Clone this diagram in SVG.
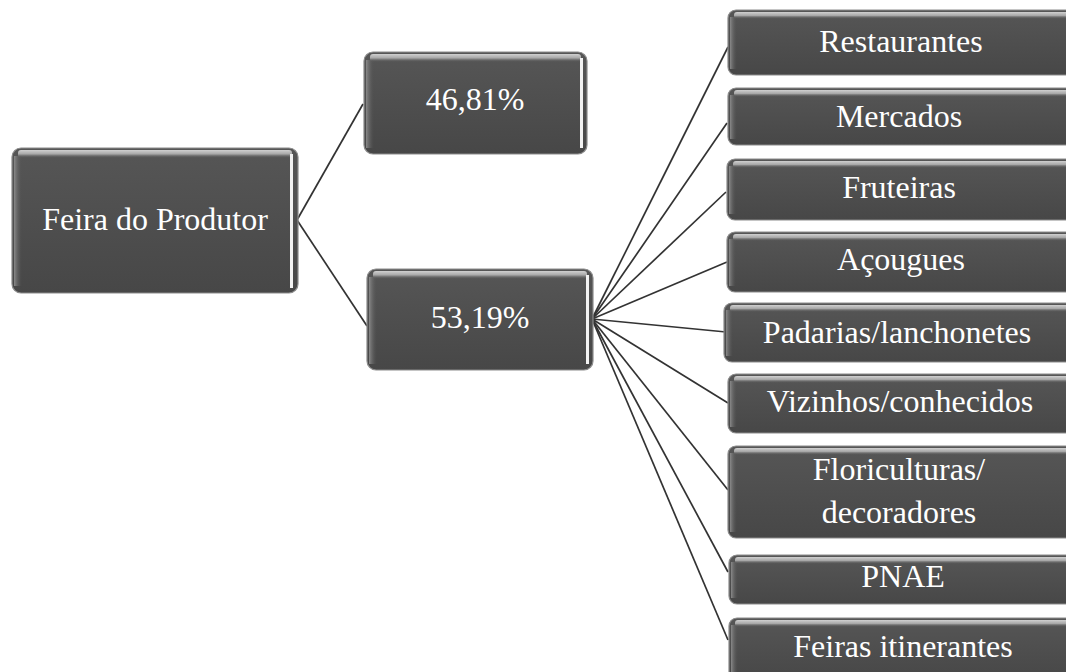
<svg xmlns="http://www.w3.org/2000/svg" width="1066" height="672" viewBox="0 0 1066 672">
<defs>
<linearGradient id="body" x1="0" y1="0" x2="0" y2="1">
<stop offset="0" stop-color="#565656"/>
<stop offset="1" stop-color="#474747"/>
</linearGradient>
<linearGradient id="hl" x1="0" y1="0" x2="0" y2="1">
<stop offset="0" stop-color="#d0d0d0"/>
<stop offset="0.5" stop-color="#a8a8a8"/>
<stop offset="1" stop-color="#5a5a5a" stop-opacity="0"/>
</linearGradient>
<linearGradient id="lhl" x1="0" y1="0" x2="1" y2="0">
<stop offset="0" stop-color="#8a8a8a"/>
<stop offset="1" stop-color="#555" stop-opacity="0"/>
</linearGradient>
</defs>
<style>
.box{fill:url(#body);stroke:#8c8c8c;stroke-width:1.2}
.top{fill:url(#hl)}
.left{fill:url(#lhl)}
.rhl{fill:#f2f2f2}
.t{font-size:32px;fill:#ffffff;text-anchor:middle}
.c{fill:none;stroke:#333333;stroke-width:1.7}
</style>
<rect width="1066" height="672" fill="#ffffff"/>
<g id="connectors">
<line class="c" x1="297" y1="220" x2="363" y2="104"/>
<line class="c" x1="297" y1="220" x2="367" y2="326"/>
<line class="c" x1="592" y1="319" x2="728" y2="47"/>
<line class="c" x1="592" y1="319" x2="727" y2="123"/>
<line class="c" x1="592" y1="319" x2="726" y2="192"/>
<line class="c" x1="592" y1="319" x2="727" y2="262"/>
<line class="c" x1="592" y1="319" x2="726" y2="332"/>
<line class="c" x1="592" y1="319" x2="728" y2="403"/>
<line class="c" x1="592" y1="319" x2="728" y2="490"/>
<line class="c" x1="592" y1="319" x2="728" y2="572"/>
<line class="c" x1="592" y1="319" x2="728" y2="640"/>
</g>
<g font-family="'Liberation Serif', 'DejaVu Serif', serif">
<g id="n-feira">
<rect class="box" x="12" y="148" width="286" height="145" rx="9"/>
<rect class="top" x="18" y="150" width="274" height="8" rx="3"/>
<rect class="left" x="14" y="156" width="8" height="130"/>
<rect class="rhl" x="290" y="154" width="3" height="134"/>
<text class="t" x="155" y="230">Feira do Produtor</text>
</g>
<g id="n-4681">
<rect class="box" x="364" y="52" width="223" height="102" rx="9"/>
<rect class="top" x="370" y="54" width="211" height="8" rx="3"/>
<rect class="left" x="366" y="60" width="8" height="88"/>
<rect class="rhl" x="580" y="58" width="3" height="90"/>
<text class="t" x="475" y="110">46,81%</text>
</g>
<g id="n-5319">
<rect class="box" x="367" y="269" width="226" height="101" rx="9"/>
<rect class="top" x="373" y="271" width="214" height="8" rx="3"/>
<rect class="left" x="369" y="277" width="8" height="87"/>
<rect class="rhl" x="586" y="275" width="3" height="89"/>
<text class="t" x="480" y="328">53,19%</text>
</g>
<g id="n-restaurantes">
<rect class="box" x="728" y="10" width="350" height="65" rx="8"/>
<rect class="top" x="734" y="12" width="340" height="7" rx="3"/>
<rect class="left" x="730" y="17" width="7" height="52"/>
<text class="t" x="901" y="52">Restaurantes</text>
</g>
<g id="n-mercados">
<rect class="box" x="728" y="88" width="350" height="57" rx="8"/>
<rect class="top" x="734" y="90" width="340" height="7" rx="3"/>
<rect class="left" x="730" y="95" width="7" height="44"/>
<text class="t" x="899" y="127">Mercados</text>
</g>
<g id="n-fruteiras">
<rect class="box" x="727" y="159" width="350" height="61" rx="8"/>
<rect class="top" x="733" y="161" width="340" height="7" rx="3"/>
<rect class="left" x="729" y="166" width="7" height="48"/>
<text class="t" x="899" y="198">Fruteiras</text>
</g>
<g id="n-acougues">
<rect class="box" x="727" y="232" width="350" height="60" rx="8"/>
<rect class="top" x="733" y="234" width="340" height="7" rx="3"/>
<rect class="left" x="729" y="239" width="7" height="47"/>
<text class="t" x="901" y="270">Açougues</text>
</g>
<g id="n-padarias">
<rect class="box" x="724" y="303" width="350" height="59" rx="8"/>
<rect class="top" x="730" y="305" width="340" height="7" rx="3"/>
<rect class="left" x="726" y="310" width="7" height="46"/>
<text class="t" x="897" y="343">Padarias/lanchonetes</text>
</g>
<g id="n-vizinhos">
<rect class="box" x="728" y="374" width="350" height="59" rx="8"/>
<rect class="top" x="734" y="376" width="340" height="7" rx="3"/>
<rect class="left" x="730" y="381" width="7" height="46"/>
<text class="t" x="900" y="412">Vizinhos/conhecidos</text>
</g>
<g id="n-floriculturas">
<rect class="box" x="728" y="446" width="350" height="92" rx="8"/>
<rect class="top" x="734" y="448" width="340" height="7" rx="3"/>
<rect class="left" x="730" y="453" width="7" height="79"/>
<text class="t" x="899" y="480">Floriculturas/</text>
<text class="t" x="899" y="523">decoradores</text>
</g>
<g id="n-pnae">
<rect class="box" x="729" y="555" width="350" height="49" rx="8"/>
<rect class="top" x="735" y="557" width="340" height="7" rx="3"/>
<rect class="left" x="731" y="562" width="7" height="36"/>
<text class="t" x="903" y="587">PNAE</text>
</g>
<g id="n-feiras">
<rect class="box" x="729" y="618" width="350" height="62" rx="8"/>
<rect class="top" x="735" y="620" width="340" height="7" rx="3"/>
<rect class="left" x="731" y="625" width="7" height="50"/>
<text class="t" x="903" y="657">Feiras itinerantes</text>
</g>
</g>
</svg>
